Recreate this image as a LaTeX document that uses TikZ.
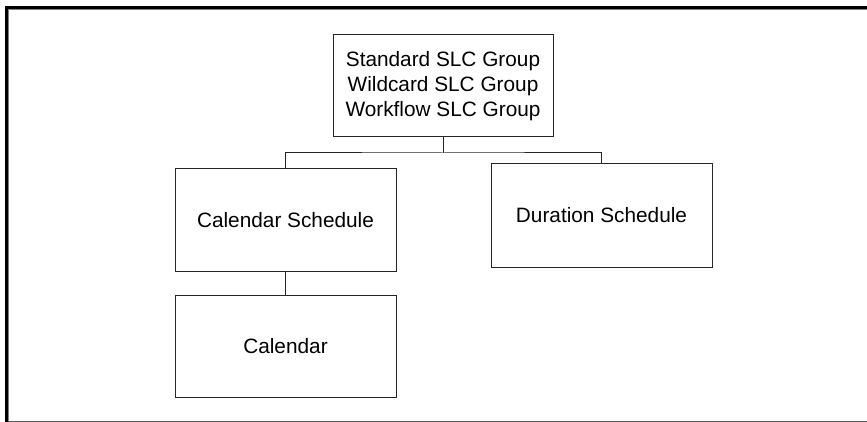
\documentclass[tikz,border=0pt]{standalone}
\usepackage{fontspec}
\setmainfont{Liberation Sans}
\begin{document}
\begin{tikzpicture}[x=1pt,y=-1pt,
  box/.style={draw=black!85,line width=1pt,rectangle,inner sep=0pt,
    minimum width=221pt,minimum height=102pt,align=center,
    font=\fontsize{20.8}{25}\selectfont},
  link/.style={draw=black!85,line width=1pt}]
\useasboundingbox (0,0) rectangle (867,422);
\fill[white] (0,0) rectangle (867,422);
% frame
\fill[black] (5,6) rectangle (867,9);
\fill[black] (5,6) rectangle (8,422);
\fill[gray] (8,9) rectangle (867,10);
\fill[gray] (8,9) rectangle (9,422);
\fill[black!65] (8,420.5) rectangle (867,421.7);
% nodes
\node[box,minimum width=220pt] (top) at (443,86) {Standard SLC Group\\Wildcard SLC Group\\Workflow SLC Group};
\node[box] (cs) at (285.5,220) {Calendar Schedule};
\node[box,minimum height=103pt] (ds) at (601.5,215.5) {Duration Schedule};
\node[box] (cal) at (285.5,346) {Calendar};
\coordinate (bus) at (443,153);
\draw[link] (top.south) -- (bus);
\draw[link] (cs.north) |- (bus) -| (ds.north);
\draw[link] (cs.south) -- (cal.north);
\end{tikzpicture}
\end{document}
